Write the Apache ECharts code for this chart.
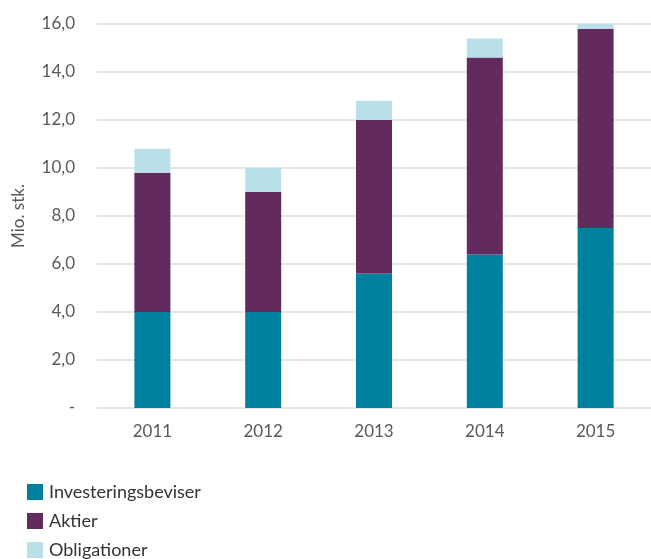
<!DOCTYPE html>
<html>
<head>
<meta charset="utf-8">
<script src="https://cdn.jsdelivr.net/npm/echarts@6/dist/echarts.min.js"></script>
<style>
  html, body { margin: 0; padding: 0; background: #fff; }
  #chart-container { width: 651px; height: 559px; }
</style>
</head>
<body>
<div id="chart-container"></div>
<script>
// data
var years = ['2011', '2012', '2013', '2014', '2015'];
var investeringsbeviser = [4.0, 4.0, 5.6, 6.4, 7.5];
var aktier = [5.8, 5.0, 6.4, 8.2, 8.3];
var obligationer = [1.0, 1.0, 0.8, 0.8, 0.2];

var myChart = echarts.init(document.getElementById('chart-container'));

var font = 'Lato, "Noto Sans", sans-serif';

var option = {
  animation: false,
  textStyle: { fontFamily: font },
  grid: { left: 97, top: 24, width: 562, height: 384 },
  legend: {
    orient: 'vertical',
    left: 22,
    top: 478,
    height: 120,
    itemWidth: 16,
    itemHeight: 16,
    itemGap: 11,
    icon: 'rect',
    textStyle: { fontSize: 18, color: '#333', fontFamily: font, padding: [0, 0, 0, 1] },
    data: ['Investeringsbeviser', 'Aktier', 'Obligationer']
  },
  xAxis: {
    type: 'category',
    data: years,
    axisLine: { show: false },
    axisTick: { show: false },
    axisLabel: { fontSize: 17, color: '#595959', margin: 15 }
  },
  yAxis: {
    type: 'value',
    min: 0,
    max: 16,
    interval: 2,
    name: 'Mio. stk.',
    nameLocation: 'middle',
    nameRotate: 90,
    nameGap: 70,
    nameTextStyle: { fontSize: 17, color: '#595959', fontFamily: font },
    axisLine: { show: false },
    axisTick: { show: false },
    splitLine: { lineStyle: { color: '#dedede', width: 1.5 } },
    axisLabel: {
      fontSize: 17,
      color: '#595959',
      margin: 22,
      formatter: function (v) {
        return v === 0 ? '-' : v.toFixed(1).replace('.', ',');
      }
    }
  },
  series: [
    {
      name: 'Investeringsbeviser',
      type: 'bar',
      stack: 'total',
      barWidth: 36,
      itemStyle: { color: '#00809F' },
      data: investeringsbeviser
    },
    {
      name: 'Aktier',
      type: 'bar',
      stack: 'total',
      barWidth: 36,
      itemStyle: { color: '#632A5E' },
      data: aktier
    },
    {
      name: 'Obligationer',
      type: 'bar',
      stack: 'total',
      barWidth: 36,
      itemStyle: { color: '#B9E0E9' },
      data: obligationer
    }
  ]
};

myChart.setOption(option);
</script>
</body>
</html>
